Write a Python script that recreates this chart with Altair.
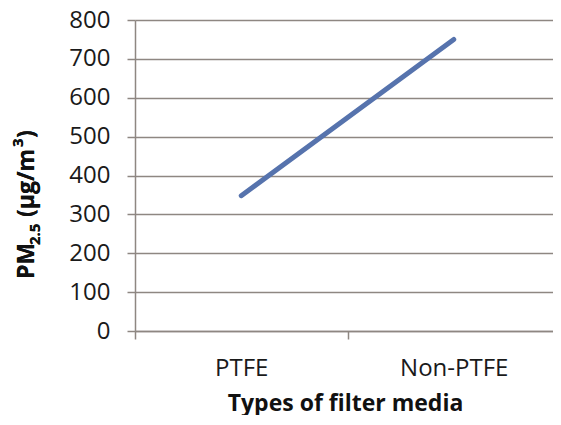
import altair as alt
import pandas as pd

categories = ["PTFE", "Non-PTFE"]
values = [348, 750]

df = pd.DataFrame({"type": categories, "pm": values})

grid_color = "#8E8782"
font = "Open Sans"
title_color = "#111111"

base = alt.Chart(df)

line = base.mark_line(
    color="#5673AD", strokeWidth=5, strokeCap="round"
).encode(
    x=alt.X(
        "type:N",
        sort=categories,
        bandPosition=0.5,
        scale=alt.Scale(type="band", paddingInner=0, paddingOuter=0),
        axis=alt.Axis(
            title="Types of filter media",
            labelAngle=0,
            grid=False,
            tickBand="extent",
            tickSize=8,
            tickColor=grid_color,
            tickWidth=1.5,
            domainColor=grid_color,
            domainWidth=1.5,
            labelFont=font,
            labelFontSize=24,
            labelColor="#1a1a1a",
            labelPadding=17,
            titleFont=font,
            titleFontSize=23,
            titleFontWeight="bold",
            titleColor=title_color,
            titlePadding=12,
            titleX=210,
        ),
    ),
    y=alt.Y(
        "pm:Q",
        scale=alt.Scale(domain=[0, 800], nice=False),
        axis=alt.Axis(
            title=None,
            values=list(range(0, 801, 100)),
            grid=True,
            gridColor=grid_color,
            gridWidth=1.5,
            tickSize=8,
            tickColor=grid_color,
            tickWidth=1.5,
            domainColor=grid_color,
            domainWidth=1.5,
            labelFont=font,
            labelFontSize=24,
            labelColor="#1a1a1a",
            labelPadding=17,
        ),
    ),
)

# Y-axis title built from pieces to get the subscript / superscript
def piece(text, x, y, size):
    return alt.Chart(df).mark_text(
        text=text, angle=270, align="left", baseline="alphabetic",
        font=font, fontSize=size, fontWeight="bold", color=title_color,
    ).encode(x=alt.value(x), y=alt.value(y))

title_parts = (
    piece("PM", -101, 259, 23)
    + piece("2.5", -95, 225, 15)
    + piece("(µg/m", -101, 197, 23)
    + piece("3", -112, 127, 15)
    + piece(")", -101, 118, 23)
)

chart = alt.layer(line, title_parts).properties(
    width=545,
    height=407,
    padding={"left": 3, "top": 0, "right": -8, "bottom": 0},
    autosize=alt.AutoSizeParams(type="fit", contains="padding"),
).configure_view(stroke=None)

chart.save("out.html", embed_options={"renderer": "svg", "actions": False})
